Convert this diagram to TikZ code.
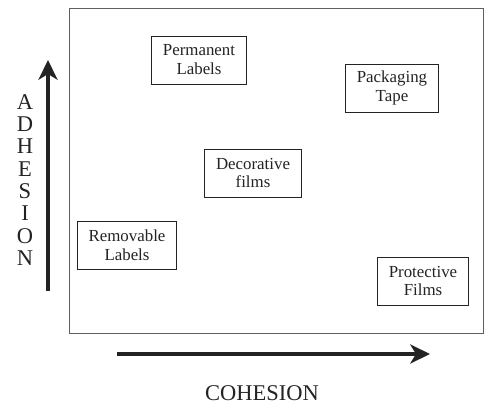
\documentclass[tikz,border=0pt]{standalone}
\usepackage{fontspec}
\setmainfont{Liberation Serif}
\usetikzlibrary{arrows.meta,positioning}
\definecolor{framecol}{RGB}{95,95,95}
\definecolor{inkcol}{RGB}{35,35,35}

\tikzset{
  usebox/.style={draw=inkcol,line width=0.6pt,align=center,text=inkcol,
    font=\fontsize{12}{13.5}\selectfont,inner xsep=0.28cm,minimum height=1.2cm},
  axis/.style={line width=2.6pt,inkcol,-{Stealth[length=14pt,width=13.5pt,inset=4pt]}},
  axislabel/.style={text=inkcol,font=\fontsize{16}{18}\selectfont,inner sep=0pt}
}

\begin{document}
\begin{tikzpicture}
\useasboundingbox (0,0) rectangle (12.125,10.175);
% property map frame
\draw[framecol,line width=0.7pt] (1.725,1.85) rectangle (12.075,9.975);
% tape products
\node[usebox] (perm) at (4.975,8.675) {Permanent\\Labels};
\node[usebox] (pack) at (9.8,7.975) {Packaging\\Tape};
\node[usebox] (deco) at (6.325,5.85) {Decorative\\films};
\node[usebox] (remov) at (3.175,4.05) {Removable\\Labels};
\node[usebox] (prot) at (10.575,3.15) {Protective\\Films};
% axes
\coordinate (adhlo) at (1.2,2.9);
\coordinate (adhhi) at (1.2,8.675);
\coordinate (cohlo) at (2.925,1.325);
\coordinate (cohhi) at (10.75,1.325);
\draw[axis] (adhlo) -- (adhhi);
\draw[axis] (cohlo) -- (cohhi);
\node[axislabel] (coh) at (6.55,0.35) {COHESION};
\foreach \ch [count=\i from 0] in {A,D,H,E,S,I,O,N}{
  \node[axislabel] (adh\i) at (0.625,{7.625-0.557*\i}) {\ch};
}
\end{tikzpicture}
\end{document}
